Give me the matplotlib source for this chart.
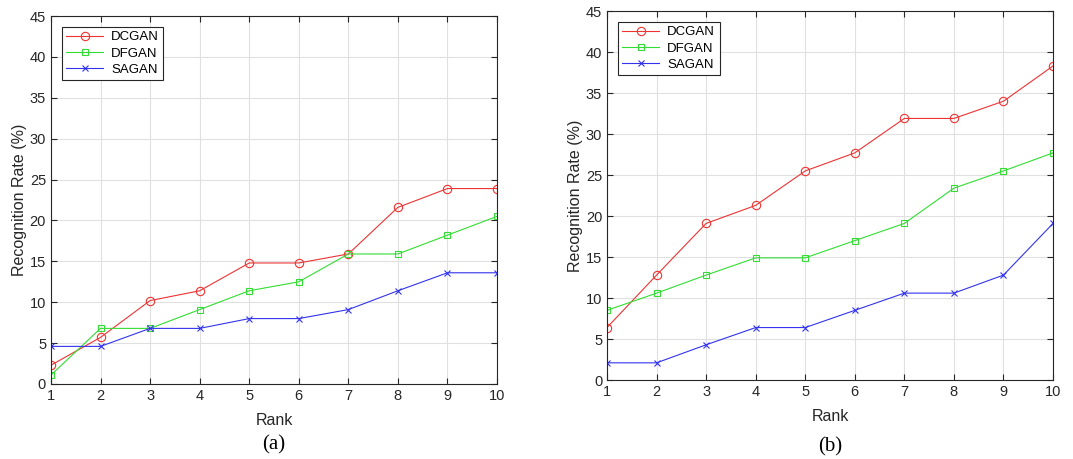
import numpy as np
import matplotlib.pyplot as plt

# Rank axis
rank = np.arange(1, 11)

# (a) recognition rates (%)
dcgan_a = [2.3, 5.7, 10.2, 11.4, 14.8, 14.8, 15.9, 21.6, 23.9, 23.9]
dfgan_a = [1.1, 6.8, 6.8, 9.1, 11.4, 12.5, 15.9, 15.9, 18.2, 20.5]
sagan_a = [4.6, 4.6, 6.8, 6.8, 8.0, 8.0, 9.1, 11.4, 13.6, 13.6]

# (b) recognition rates (%)
dcgan_b = [6.4, 12.8, 19.1, 21.3, 25.5, 27.7, 31.9, 31.9, 34.0, 38.3]
dfgan_b = [8.5, 10.6, 12.8, 14.9, 14.9, 17.0, 19.1, 23.4, 25.5, 27.7]
sagan_b = [2.1, 2.1, 4.3, 6.4, 6.4, 8.5, 10.6, 10.6, 12.8, 19.1]

plt.rcParams['font.family'] = 'Liberation Sans'

fig = plt.figure(figsize=(10.73, 4.59), dpi=100)
ax_a = fig.add_axes([0.0475, 0.1634, 0.4157, 0.8017])
ax_b = fig.add_axes([0.5657, 0.172, 0.4157, 0.804])


def draw(ax, dc, df, sa, tag, tag_y):
    ax.plot(rank, dc, '-o', color='#ee3333', lw=0.8, ms=6, mfc='none', mew=0.8, label='DCGAN')
    ax.plot(rank, df, '-s', color='#33dd33', lw=0.8, ms=5, mfc='none', mew=0.8, label='DFGAN')
    ax.plot(rank, sa, '-x', color='#3333ee', lw=0.8, ms=4.5, mew=0.8, label='SAGAN')
    ax.set_xlim(1, 10)
    ax.set_ylim(0, 45)
    ax.set_xticks(rank)
    ax.set_yticks(np.arange(0, 46, 5))
    ax.grid(True, color='#e0e0e0', lw=0.8)
    ax.tick_params(direction='in', top=True, right=True, labelsize=10.5, colors='#262626', length=4)
    for s in ax.spines.values():
        s.set_color('#262626')
        s.set_linewidth(0.8)
    ax.set_xlabel('Rank', fontsize=11.5, color='#262626', labelpad=7)
    ax.set_ylabel('Recognition Rate (%)', fontsize=11.5, color='#262626', labelpad=2)
    leg = ax.legend(loc='upper left', fontsize=9.5, fancybox=False, edgecolor='#262626',
                    framealpha=1, handlelength=2.8, borderaxespad=0.8,
                    labelspacing=0.3, handletextpad=0.6, borderpad=0.35)
    leg.get_frame().set_linewidth(0.8)
    ax.text(0.5, tag_y, tag, transform=ax.transAxes, ha='center', va='center',
            fontsize=15, family='Liberation Serif')


draw(ax_a, dcgan_a, dfgan_a, sagan_a, '(a)', -0.165)
draw(ax_b, dcgan_b, dfgan_b, sagan_b, '(b)', -0.18)

plt.savefig('out.png', dpi=100)
